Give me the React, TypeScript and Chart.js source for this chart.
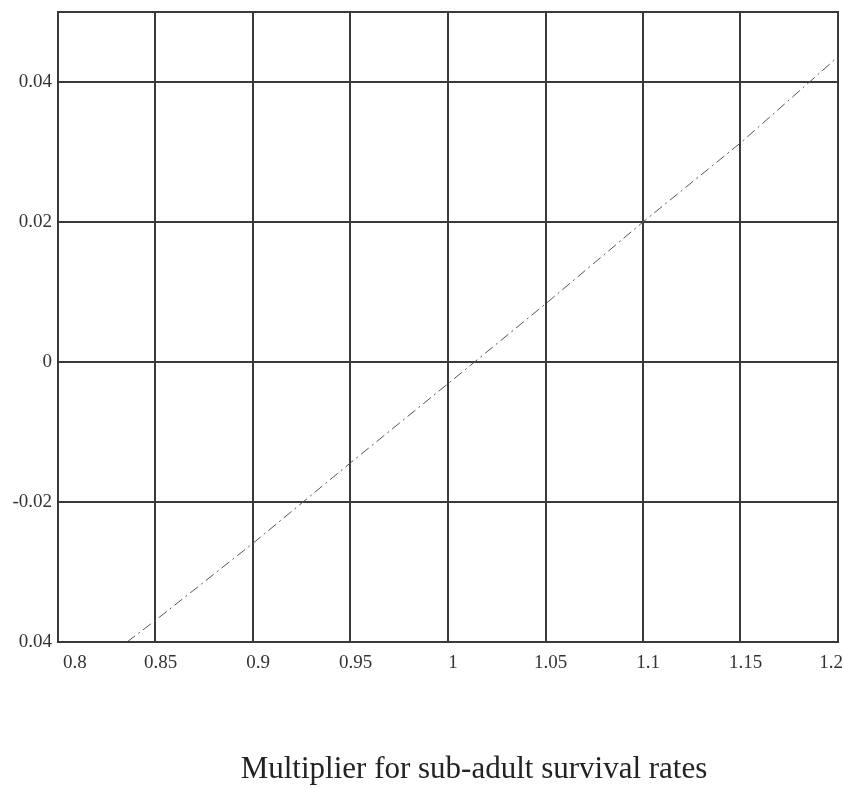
import React, { useEffect, useRef } from "react";
import { Chart, registerables } from "chart.js";

Chart.register(...registerables);

// Data
const multiplier = [0.8354, 0.85, 0.9, 0.95, 1.0, 1.05, 1.1, 1.15, 1.2];
const response = [-0.04, -0.0369, -0.0259, -0.0144, -0.0031, 0.0083, 0.02, 0.0313, 0.0436];

const xTickValues = [0.8, 0.85, 0.9, 0.95, 1.0, 1.05, 1.1, 1.15, 1.2];
const xTickLabels = ["0.8", "0.85", "0.9", "0.95", "1", "1.05", "1.1", "1.15", "1.2"];
const yTickValues = [-0.04, -0.02, 0, 0.02, 0.04];
const yTickLabels = ["0.04", "-0.02", "0", "0.02", "0.04"];

const xTitle = "Multiplier for sub-adult survival rates";

const GRID = "#3a3a3a";
const FONT = "'Liberation Serif', 'Times New Roman', serif";

const frame = {
  id: "frame",
  afterDraw(chart: any) {
    const { ctx, chartArea } = chart;
    ctx.save();
    ctx.strokeStyle = GRID;
    ctx.lineWidth = 2;
    ctx.strokeRect(chartArea.left, chartArea.top, chartArea.right - chartArea.left, chartArea.bottom - chartArea.top);
    ctx.restore();
  },
};

export default function App() {
  const ref = useRef<HTMLCanvasElement | null>(null);

  useEffect(() => {
    if (!ref.current) return;
    const chart = new Chart(ref.current, {
      type: "scatter",
      data: {
        datasets: [
          {
            data: multiplier.map((x, i) => ({ x, y: response[i] })),
            showLine: true,
            borderColor: "#555",
            borderWidth: 1,
            borderDash: [10, 4, 2, 4],
            pointRadius: 0,
            fill: false,
          },
        ],
      },
      options: {
        animation: false,
        responsive: true,
        maintainAspectRatio: false,
        layout: { padding: { top: 12, right: 5, left: 0, bottom: 0 } },
        plugins: { legend: { display: false }, tooltip: { enabled: false } },
        scales: {
          x: {
            type: "linear",
            min: 0.8,
            max: 1.2,
            afterBuildTicks: (s: any) => {
              s.ticks = xTickValues.map((v) => ({ value: v }));
            },
            afterFit: (s: any) => {
              s.height = 146;
              s.paddingLeft = 0;
              s.paddingRight = 0;
            },
            grid: { color: GRID, lineWidth: 2, drawTicks: false },
            border: { display: true, color: GRID, width: 2 },
            ticks: {
              align: "inner",
              labelOffset: 5,
              padding: 10,
              color: "#333",
              font: { family: FONT, size: 19 },
              maxRotation: 0,
              autoSkip: false,
              callback: (v: any) => {
                const i = xTickValues.findIndex((t) => Math.abs(t - Number(v)) < 1e-9);
                return i >= 0 ? xTickLabels[i] : "";
              },
            },
          },
          y: {
            type: "linear",
            min: -0.04,
            max: 0.05,
            afterBuildTicks: (s: any) => {
              s.ticks = yTickValues.map((v) => ({ value: v }));
            },
            afterFit: (s: any) => {
              s.width = 58;
              s.paddingTop = 0;
              s.paddingBottom = 0;
            },
            grid: { color: GRID, lineWidth: 2, drawTicks: false },
            border: { display: true, color: GRID, width: 2 },
            ticks: {
              padding: 6,
              color: "#333",
              font: { family: FONT, size: 19 },
              autoSkip: false,
              callback: (v: any) => {
                const i = yTickValues.findIndex((t) => Math.abs(t - Number(v)) < 1e-9);
                return i >= 0 ? yTickLabels[i] : "";
              },
            },
          },
        },
      },
      plugins: [frame],
    } as any);
    return () => chart.destroy();
  }, []);

  return (
    <div style={{ position: "absolute", left: 0, top: 0, width: 843, height: 788, background: "#fff" }}>
      <canvas ref={ref} style={{ width: "100%", height: "100%" }} />
      <div
        style={{
          position: "absolute",
          left: 474,
          top: 750,
          transform: "translateX(-50%)",
          whiteSpace: "nowrap",
          fontFamily: FONT,
          fontSize: 31,
          lineHeight: "36px",
          color: "#222",
        }}
      >
        {xTitle}
      </div>
    </div>
  );
}
